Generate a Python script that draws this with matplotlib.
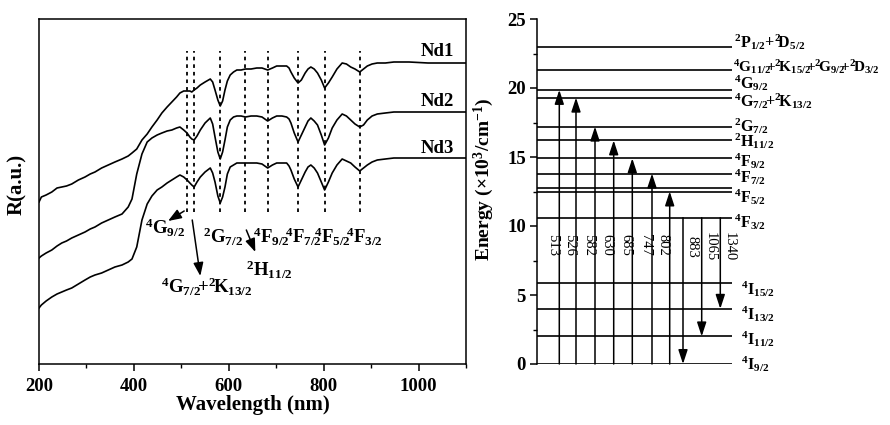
import matplotlib
matplotlib.use("Agg")
import matplotlib.pyplot as plt
from matplotlib.ticker import MultipleLocator

plt.rcParams.update({
    "font.family": ["Liberation Serif", "DejaVu Serif"],
    "font.weight": "bold",
    "mathtext.fontset": "custom",
    "mathtext.rm": "Liberation Serif",
    "mathtext.bf": "Liberation Serif:bold",
    "mathtext.it": "Liberation Serif:italic",
    "axes.linewidth": 1.1,
})

# ---------------- data: reflectance spectra ----------------
wavelength = [200, 205, 215, 227, 238, 248, 258, 269, 283, 297, 308, 318, 332, 346, 360,
              375, 388, 396, 406, 417, 428, 438, 449, 459, 470, 480, 490, 497, 505, 512,
              518, 522, 527, 533, 540, 550, 561, 566, 571, 577, 582, 587, 592, 597, 603,
              610, 617, 626, 635, 647, 659, 670, 682, 692, 701, 712, 722, 727, 731, 738,
              746, 753, 761, 767, 773, 780, 787, 795, 802, 810, 818, 828, 839, 848, 857,
              866, 876, 884, 892, 902, 913, 930, 948, 980, 1020, 1060, 1100]
nd1 = [162, 167, 169, 172, 176, 177, 178, 180, 184, 187, 190, 192, 196, 199, 202,
       205, 208, 211, 215, 224, 230, 237, 244, 251, 257, 262, 267, 271, 273, 273,
       273, 272, 274, 276, 279, 282, 285, 282, 274, 264, 258, 263, 274, 283, 289,
       292, 294, 294, 295, 295, 296, 296, 294, 296, 298, 298, 298, 296, 292, 286,
       281, 284, 291, 295, 297, 295, 291, 284, 276, 281, 287, 295, 301, 300, 297,
       295, 292, 295, 298, 300, 301, 301, 302, 302, 301, 301, 301]
nd2 = [106, 108, 111, 114, 118, 121, 123, 126, 129, 132, 135, 137, 141, 144, 147,
       150, 157, 165, 190, 210, 222, 226, 229, 231, 233, 234, 236, 237, 234, 231,
       227, 225, 224, 228, 234, 241, 246, 240, 227, 212, 205, 212, 224, 237, 244,
       247, 248, 248, 247, 248, 248, 247, 243, 246, 248, 248, 247, 245, 241, 231,
       222, 229, 237, 243, 246, 243, 239, 229, 219, 226, 236, 244, 250, 248, 244,
       240, 237, 239, 244, 248, 250, 251, 252, 252, 252, 252, 252]
nd3 = [56, 59, 63, 67, 70, 72, 74, 76, 80, 84, 87, 89, 91, 94, 97,
       99, 102, 105, 117, 144, 160, 168, 174, 177, 181, 184, 187, 189, 187, 184,
       181, 179, 177, 182, 187, 192, 196, 191, 182, 168, 161, 167, 177, 190, 197,
       199, 201, 201, 201, 201, 201, 200, 196, 199, 201, 201, 201, 198, 194, 185,
       177, 184, 192, 197, 199, 196, 191, 182, 174, 182, 191, 199, 205, 203, 201,
       197, 193, 196, 199, 202, 204, 205, 206, 206, 206, 206, 206]
series_names = ["Nd1", "Nd2", "Nd3"]
peak_lines = [512, 527, 582, 635, 682, 746, 802, 876]

# ---------------- data: energy levels ----------------
level_energy = [23.0, 21.3, 19.86, 19.3, 17.2, 16.2, 14.9, 13.8, 12.78, 12.5,
                10.6, 5.9, 4.0, 2.0, 0.0]
level_labels = [r"$^{2}\mathbf{P}_{1/2}$+$^{2}\!\mathbf{D}_{5/2}$",
                r"$^{4}\mathbf{G}_{11/2}\!\!$+$^{2}\!\mathbf{K}_{15/2}\!\!$+$^{2}\!\mathbf{G}_{9/2}\!\!$+$^{2}\!\mathbf{D}_{3/2}$",
                r"$^{4}\mathbf{G}_{9/2}$",
                r"$^{4}\mathbf{G}_{7/2}\!$+$^{2}\!\mathbf{K}_{13/2}$",
                r"$^{2}\mathbf{G}_{7/2}$",
                r"$^{2}\mathbf{H}_{11/2}$",
                r"$^{4}\mathbf{F}_{9/2}$",
                r"$^{4}\mathbf{F}_{7/2}$",
                r"$^{4}\mathbf{F}_{5/2}$",
                r"$^{4}\mathbf{F}_{3/2}$",
                r"$^{4}\mathbf{I}_{15/2}$",
                r"$^{4}\mathbf{I}_{13/2}$",
                r"$^{4}\mathbf{I}_{11/2}$",
                r"$^{4}\mathbf{I}_{9/2}$"]
up_nm = [513, 526, 582, 630, 685, 747, 802]
up_top = [19.86, 19.3, 17.2, 16.2, 14.9, 13.8, 12.5]
down_nm = [883, 1065, 1340]
down_start = 10.6
down_end = [0.0, 2.0, 4.0]

# ---------------- layout ----------------
label_base = [22.9, 21.16, 19.93, 18.62, 16.81, 15.72, 14.28, 13.12, 11.67, 9.86,
              5.0, 3.19, 1.38, -0.43]
label_x = [197, 196, 197, 197, 197, 197, 197, 197, 197, 197, 204, 204, 204, 204]
label_fs = [11.5, 11, 11.5, 11.5, 11.5, 11.5, 11.5, 11.5, 11.5, 11.5, 11.5, 11.5, 11.5, 11.5]
up_x = [22.3, 39, 58, 76.7, 95.3, 115, 132.7]
down_x = [146, 164.7, 183.3]

fig = plt.figure(figsize=(8.9, 4.25), dpi=100)
W, H = 890.0, 425.0
axL = fig.add_axes([39 / W, (H - 364) / H, (466 - 39) / W, 345 / H])
axR = fig.add_axes([537 / W, (H - 364) / H, 195 / W, 345 / H])

# ---------------- left panel ----------------
for ys in (nd1, nd2, nd3):
    axL.plot(wavelength, ys, color="black", lw=1.2)
axL.vlines(peak_lines, 152, 313, colors="black", linestyles=(0, (2, 2.2)), lw=1.3)
axL.set_xlim(200, 1100)
axL.set_ylim(0, 345)
axL.set_yticks([])
axL.xaxis.set_major_locator(MultipleLocator(200))
axL.xaxis.set_minor_locator(MultipleLocator(100))
axL.tick_params(axis="x", which="major", direction="out", length=5, width=1.1,
                labelsize=13.5, pad=5, top=False)
axL.tick_params(axis="x", which="minor", direction="out", length=3, width=1.0, top=False)
for lab in axL.get_xticklabels():
    lab.set_fontweight("bold")
axL.set_xlabel("Wavelength (nm)", fontsize=15, fontweight="bold", labelpad=0)
axL.set_ylabel("R(a.u.)", fontsize=15, fontweight="bold")
axL.yaxis.set_label_coords(-0.027, 0.52)

for name, yv in zip(series_names, [312.5, 263, 215.5]):
    axL.text(1040, yv, name, ha="center", va="center", fontsize=13.5, fontweight="bold")

fs_ann = 13.5
axL.text(466, 136, r"$^{4}\mathbf{G}_{9/2}$", ha="center", va="center", fontsize=fs_ann)
axL.text(553, 77, r"$^{4}\mathbf{G}_{7/2}\!$+$^{2}\!\mathbf{K}_{13/2}$", ha="center", va="center",
         fontsize=fs_ann)
axL.text(587, 127, r"$^{2}\mathbf{G}_{7/2}$", ha="center", va="center", fontsize=fs_ann)
axL.text(685, 94, r"$^{2}\mathbf{H}_{11/2}$", ha="center", va="center", fontsize=fs_ann)
axL.text(691, 127, r"$^{4}\mathbf{F}_{9/2}$", ha="center", va="center", fontsize=fs_ann)
axL.text(757, 127, r"$^{4}\mathbf{F}_{7/2}$", ha="center", va="center", fontsize=fs_ann)
axL.text(819, 127, r"$^{4}\mathbf{F}_{5/2}$", ha="center", va="center", fontsize=fs_ann)
axL.text(887, 127, r"$^{4}\mathbf{F}_{3/2}$", ha="center", va="center", fontsize=fs_ann)

arr = dict(arrowstyle="-|>,head_length=0.8,head_width=0.3", color="black", lw=1.1,
           shrinkA=0, shrinkB=0, mutation_scale=10)
axL.annotate("", xy=(472, 143), xytext=(506, 153), arrowprops=arr)
axL.annotate("", xy=(540, 88), xytext=(523, 144), arrowprops=arr)
axL.annotate("", xy=(656, 112), xytext=(637, 134), arrowprops=arr)

# ---------------- right panel ----------------
axR.set_xlim(0, 195)
axR.set_ylim(0, 25)
axR.hlines(level_energy, 0, 195, colors="black", lw=1.2)
for s in ("top", "right", "bottom"):
    axR.spines[s].set_visible(False)
axR.spines["left"].set_linewidth(1.1)
axR.set_xticks([])
axR.yaxis.set_major_locator(MultipleLocator(5))
axR.yaxis.set_minor_locator(MultipleLocator(2.5))
axR.tick_params(axis="y", which="major", direction="out", length=5, width=1.1,
                labelsize=13.5, pad=3)
axR.tick_params(axis="y", which="minor", direction="out", length=3, width=1.0)
for lab in axR.get_yticklabels():
    lab.set_fontweight("bold")
axR.set_ylabel(r"Energy ($\times$10$^{3}$/cm$^{-1}$)", fontsize=14, fontweight="bold")
axR.yaxis.set_label_coords(-0.21, 0.535)

for lab, yb, xl, fs in zip(level_labels, label_base, label_x, label_fs):
    axR.text(xl, yb, lab, ha="left", va="baseline", fontsize=fs, clip_on=False)

arr2 = dict(arrowstyle="-|>,head_length=0.85,head_width=0.28", color="black", lw=1.1,
            shrinkA=0, shrinkB=0, mutation_scale=10)
for x, top, nm in zip(up_x, up_top, up_nm):
    axR.annotate("", xy=(x, top), xytext=(x, 0), arrowprops=arr2)
    axR.text(x - 6.5, 8.6, str(nm), rotation=-90, ha="center", va="center",
             fontsize=10.5, fontweight="normal")
for x, end, nm in zip(down_x, down_end, down_nm):
    axR.annotate("", xy=(x, end), xytext=(x, down_start), arrowprops=arr2)
    axR.text(x + 9, 8.5, str(nm), rotation=-90, ha="center", va="center",
             fontsize=10.5, fontweight="normal")

fig.savefig("out.png", dpi=100)
